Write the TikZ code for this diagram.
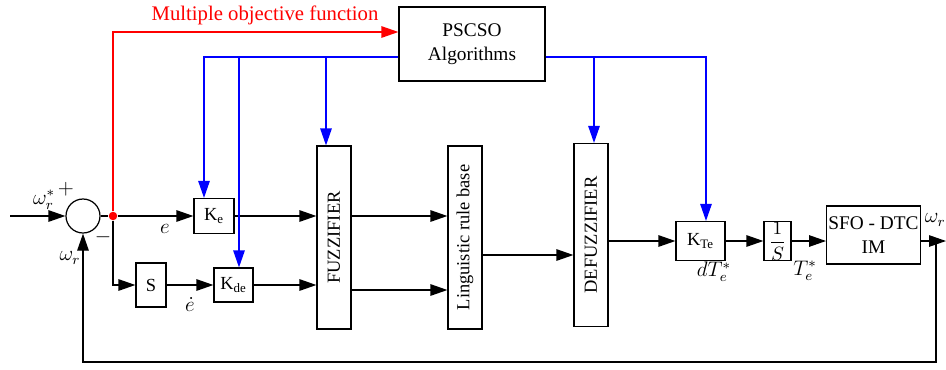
\documentclass[tikz,border=0pt]{standalone}
\usepackage{fontspec}
\setmainfont{Liberation Serif}
\usetikzlibrary{arrows.meta, calc}
\tikzstyle{block} = [rectangle, draw=black, line width=0.7pt, inner sep=1pt, text centered, font=\fontsize{10.5}{12}\selectfont]
\tikzstyle{tall} = [block, rotate=90, minimum width=3.66cm, minimum height=0.68cm]
\tikzstyle{sumnode} = [circle, draw=black, line width=0.7pt, minimum size=0.68cm, inner sep=0pt]
\tikzstyle{myarrow} = [-{Triangle[length=3.4mm, width=2.3mm]}, line width=0.7pt]
\tikzstyle{redarrow} = [myarrow, draw=red]
\tikzstyle{bluearrow} = [myarrow, draw=blue]
\tikzstyle{lbl} = [inner sep=0pt, font=\fontsize{12}{14}\selectfont]

\begin{document}
\begin{tikzpicture}[x=0.02cm, y=-0.02cm]
\useasboundingbox (0,0) rectangle (946,369);

\node(pscso)[block, minimum width=2.92cm, minimum height=1.48cm, align=center, font=\fontsize{11}{13.5}\selectfont] at (472,44) {PSCSO\\ Algorithms};
\node(sum)[sumnode] at (83,216) {};
\node(dot)[circle, fill=red, inner sep=0pt, minimum size=0.17cm] at (113,216) {};
\node(ke)[block, minimum width=0.8cm, minimum height=0.7cm] at (214,216) {K\textsubscript{e}};
\node(s)[block, minimum width=0.6cm, minimum height=0.88cm] at (151,285) {S};
\node(kde)[block, minimum width=0.78cm, minimum height=0.68cm] at (233.5,285) {K\textsubscript{de}};
\node(fuzz)[tall] at (334,237.5) {FUZZIFIER};
\node(rule)[tall] at (465,237.5) {Linguistic rule base};
\node(defuzz)[tall] at (591,235) {DEFUZZIFIER};
\node(kte)[block, minimum width=0.98cm, minimum height=0.78cm] at (700.5,241) {K\textsubscript{Te}};
\node(integ)[block, minimum width=0.54cm, minimum height=0.78cm, inner sep=0pt] at (777.5,241) {$\displaystyle\frac{1}{S}$};
\node(sfo)[block, minimum width=1.86cm, minimum height=1.16cm, align=center, font=\fontsize{11}{13.5}\selectfont] at (873.5,235) {SFO - DTC\\ IM};

\coordinate (in) at (10,216);
\coordinate (out) at (946,241);
\coordinate (fb) at (936,241);

\draw [myarrow] (in) -- (sum);
\draw [line width=0.7pt] (sum) -- (dot);
\draw [myarrow] (dot) -- (ke);
\draw [myarrow] (dot) |- (s.west);
\draw [myarrow] (s) -- (kde);
\draw [myarrow] (ke) -- (ke -| fuzz.north);
\draw [myarrow] (kde) -- (kde -| fuzz.north);
\draw [myarrow] (fuzz.south |- ke) -- (ke -| rule.north);
\draw [myarrow] ($(fuzz.south |- kde)+(0,5)$) -- ($(kde -| rule.north)+(0,5)$);
\draw [myarrow] ($(rule.south)+(0,17.5)$) -- ($(defuzz.north |- rule.south)+(0,17.5)$);
\draw [myarrow] (defuzz.south |- kte) -- (kte);
\draw [myarrow] (kte) -- (integ);
\draw [myarrow] (integ) -- (integ -| sfo.west);
\draw [myarrow] (sfo.east |- out) -- (out);
\draw [myarrow] (fb) -- ++(0,121) -| (sum);

% optimiser links
\draw [redarrow] (dot) -- (dot |- 0,32) -- (pscso.west |- 0,32);
\draw [bluearrow] ($(pscso.west)+(0,13)$) -| ([xshift=-0.2cm]ke.north);
\draw [bluearrow] ($(pscso.west)+(0,13)$) -| ([xshift=0.11cm]kde.north);
\draw [bluearrow] ($(pscso.west)+(0,13)$) -| ([xshift=-0.16cm]fuzz.east);
\draw [bluearrow] ($(pscso.east)+(0,13)$) -| ([xshift=0.06cm]defuzz.east);
\draw [bluearrow] ($(pscso.east)+(0,13)$) -| ([xshift=0.11cm]kte.north);

\node(objlbl)[inner sep=0pt, text=red, font=\fontsize{11.8}{14}\selectfont] at (265,15) {Multiple objective function};
\node(wref)[lbl] at (44,200) {$\omega_r^*$};
\node(plus)[lbl] at (66,189) {$+$};
\node(minus)[lbl] at (103,237) {$-$};
\node(wfb)[lbl] at (70,258) {$\omega_r$};
\node(elbl)[lbl] at (165,229) {$e$};
\node(edot)[lbl] at (190,304) {$\dot e$};
\node(dte)[lbl] at (714,272) {$dT_e^*$};
\node(te)[lbl] at (805,271) {$T_e^*$};
\node(wout)[lbl, anchor=east] at (946,220) {$\omega_r$};
\end{tikzpicture}
\end{document}
